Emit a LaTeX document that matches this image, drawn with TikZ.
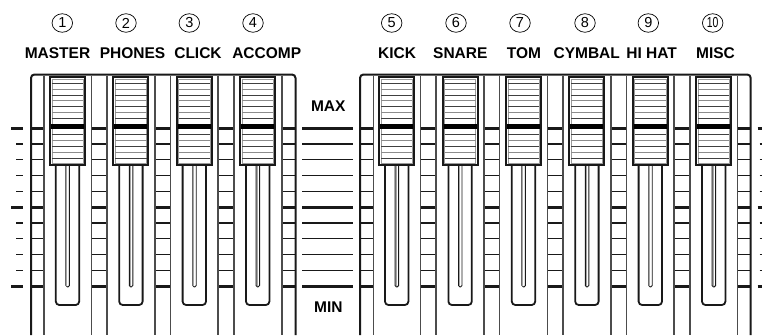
\documentclass[tikz,border=0pt]{standalone}
\usepackage{fontspec}
\setmainfont{Liberation Sans}
\usetikzlibrary{shapes.geometric}
\begin{document}
\begin{tikzpicture}[x=1pt,y=-1pt,
  panel/.style={line width=2pt, black!90, rounded corners=3.5pt},
  colline/.style={line width=1.5pt, black!70},
  thintick/.style={line width=1.4pt, black!90},
  thicktick/.style={line width=3pt, black!90},
  knobbox/.style={fill=white, draw=black!90, line width=2pt},
  knobinner/.style={draw=black!40, line width=0.8pt},
  knobdark/.style={line width=1pt, black!75},
  knoblight/.style={line width=1pt, black!45},
  knobbar/.style={line width=4.5pt, black},
  slotout/.style={line width=1.8pt, black!90, rounded corners=3.5pt},
  slotin/.style={line width=0.9pt, black!90, rounded corners=1.5pt},
  lab/.style={anchor=base, inner sep=0pt, font=\fontsize{15.5}{18}\selectfont\bfseries},
  numc/.style={ellipse, draw, line width=0.7pt, minimum width=20.5pt, minimum height=18.5pt, inner sep=0pt, font=\fontsize{14.5}{14.5}\selectfont}
]
\useasboundingbox (0,0) rectangle (762,335);

% ---- ticks (in columns, scale) ----
\foreach \k in {0,...,10} {
  \pgfmathsetmacro\yy{128+15.8*\k}
  \ifnum\k=0 \def\tst{thicktick}\else\ifnum\k=5 \def\tst{thicktick}\else\ifnum\k=10 \def\tst{thicktick}\else\def\tst{thintick}\fi\fi\fi
  \foreach \xl/\xr in {31/44, 91.4/107, 154.8/170.4, 218.2/233.8, 282/295.5,
                       360/373.3, 420.6/436.2, 484/499.6, 547.4/563, 610.8/626.4, 674.2/689.8, 737.3/750.7,
                       302.3/352.7}
    \draw[\tst] (\xl,\yy) -- (\xr,\yy);
}
% outside ticks
\foreach \k in {0,...,10} {
  \pgfmathsetmacro\yy{128+15.8*\k}
  \ifnum\k=0 \def\xa{11}\def\xb{757.5}\def\tst{thicktick}\else\ifnum\k=5 \def\xa{11}\def\xb{757.5}\def\tst{thicktick}\else\ifnum\k=10 \def\xa{11}\def\xb{757.5}\def\tst{thicktick}\else\def\xa{16}\def\xb{759.5}\def\tst{thintick}\fi\fi\fi
  \draw[\tst] (\xa,\yy) -- (23,\yy);
  \draw[\tst] (\xb,\yy) -- (762,\yy);
}

% ---- column lines ----
\foreach \x in {44, 91.4, 107, 154.8, 170.4, 218.2, 233.8, 282,
                373.3, 420.6, 436.2, 484, 499.6, 547.4, 563, 610.8, 626.4, 674.2, 689.8, 737.3}
  \draw[colline] (\x,75.5) -- (\x,335);

% ---- panels ----
\draw[panel] (31,335) -- (31,74.5) -- (295.5,74.5) -- (295.5,335);
\draw[panel] (360,335) -- (360,74.5) -- (750.7,74.5) -- (750.7,335);

% ---- faders ----
\foreach \c in {67.5,130.9,194.3,257.7,396.7,460.1,523.5,586.9,650.3,713.7} {
  % slot
  \draw[slotout] (\c-11.7,165) -- (\c-11.7,305) -- (\c+11.7,305) -- (\c+11.7,165);
  \draw[slotin] (\c-1.6,165) -- (\c-1.6,287) -- (\c+1.9,287) -- (\c+1.9,165);
  \draw[line width=0.8pt, black!35] (\c-0.7,165) -- (\c-0.7,285.5);
  % knob
  \draw[knobbox] (\c-17.5,77.3) rectangle (\c+17.5,165);
  \draw[knobinner] (\c-15.6,79.2) rectangle (\c+15.6,163.1);
  \foreach \k in {0,...,6} {
    \pgfmathsetmacro\yy{83.2+5.9*\k}
    \ifodd\k \draw[knoblight] (\c-15.6,\yy) -- (\c+15.6,\yy); \else \draw[knobdark] (\c-15.6,\yy) -- (\c+15.6,\yy); \fi
  }
  \draw[knobbar] (\c-16.5,126.7) -- (\c+16.5,126.7);
  \foreach \k in {0,...,4} {
    \pgfmathsetmacro\yy{134.8+5.9*\k}
    \ifodd\k \draw[knoblight] (\c-15.6,\yy) -- (\c+15.6,\yy); \else \draw[knobdark] (\c-15.6,\yy) -- (\c+15.6,\yy); \fi
  }
}

% ---- labels ----
\node[lab] (l1) at (57.5,58.3) {MASTER};
\node[lab] (l2) at (132.5,58.3) {PHONES};
\node[lab] (l3) at (198,58.3) {CLICK};
\node[lab] (l4) at (266.7,58.3) {ACCOMP};
\node[lab] (l5) at (397,58.3) {KICK};
\node[lab] (l6) at (460.3,58.3) {SNARE};
\node[lab] (l7) at (524,58.3) {TOM};
\node[lab] (l8) at (586.7,58.3) {CYMBAL};
\node[lab] (l9) at (651.7,58.3) {HI HAT};
\node[lab] (l10) at (715.5,58.3) {MISC};
\node[lab] (max) at (328.3,111.7) {MAX};
\node[lab] (min) at (328.3,312.7) {MIN};

% ---- circled numbers ----
\node[numc] (c1) at (62.3,23) {1};
\node[numc] (c2) at (126,23) {2};
\node[numc] (c3) at (189.3,23) {3};
\node[numc] (c4) at (253,23) {4};
\node[numc] (c5) at (391.7,23) {5};
\node[numc] (c6) at (456,23) {6};
\node[numc] (c7) at (520,23) {7};
\node[numc] (c8) at (585,23) {8};
\node[numc] (c9) at (648.3,23) {9};
\node[numc] (c10) at (712.7,23) {\scalebox{0.72}[1]{10}};
\end{tikzpicture}
\end{document}
